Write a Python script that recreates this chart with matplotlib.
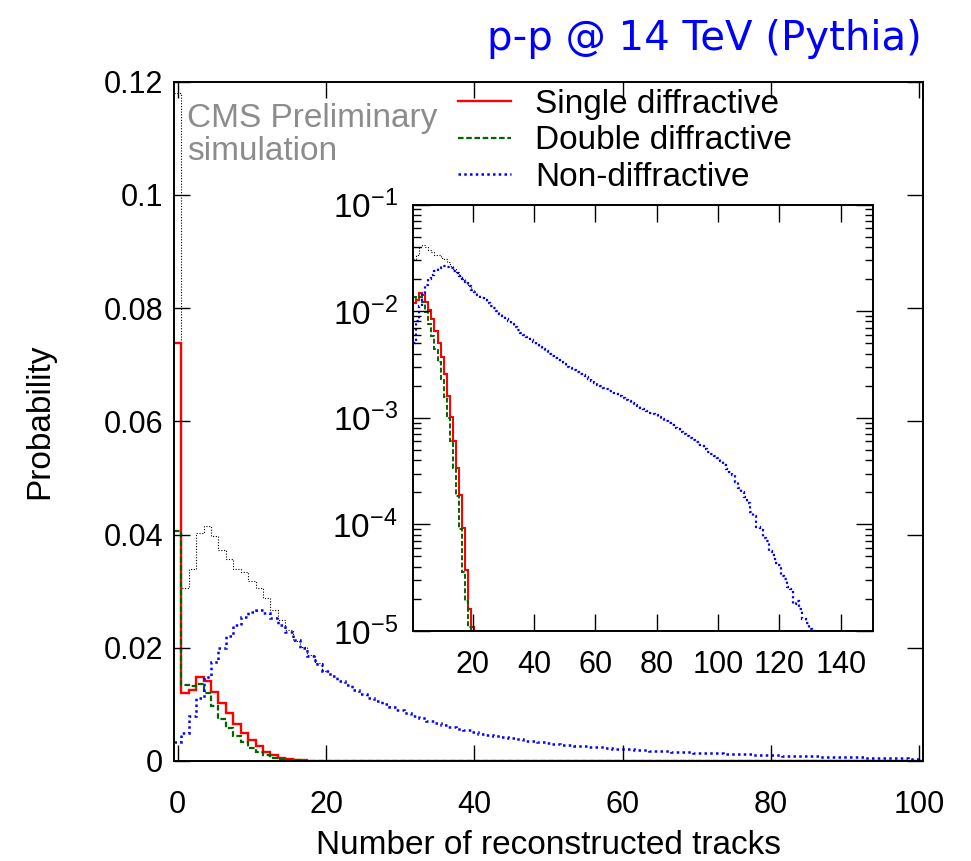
import numpy as np
import matplotlib
matplotlib.use("Agg")
import matplotlib.pyplot as plt
from matplotlib.lines import Line2D
from matplotlib.ticker import FuncFormatter, LogLocator, NullFormatter, NullLocator

plt.rcParams['font.family'] = ['Liberation Sans', 'DejaVu Sans']
plt.rcParams['mathtext.default'] = 'regular'

# probability per track-multiplicity bin (bin n centred on n)
single_diff = [0.0738, 0.0120, 0.0126, 0.0148, 0.0142, 0.0122, 0.0103, 0.0084, 0.0065, 0.0050,
               0.0037, 0.0026, 0.0016, 0.00102, 0.00061, 0.00034, 0.000188, 0.000093, 0.000037,
               0.000016, 0.000011]
double_diff = [0.0407, 0.0135, 0.0132, 0.0136, 0.0121, 0.0098, 0.0075, 0.0058, 0.0044, 0.0033,
               0.0023, 0.00155, 0.00100, 0.00060, 0.00034, 0.000186, 0.000090, 0.000036,
               0.000019, 0.000011]
non_diff = [0.0033, 0.0050, 0.0080, 0.0112, 0.0148, 0.0175, 0.0200, 0.0220, 0.0240, 0.0255,
            0.0264, 0.0266, 0.0261, 0.0252, 0.0240, 0.0227, 0.0213, 0.0200, 0.0186, 0.0172,
            0.0159, 0.0150, 0.0142, 0.0134, 0.0126, 0.0119, 0.0112, 0.0106, 0.0100, 0.0095,
            0.0090, 0.0085, 0.0080, 0.0076, 0.0071, 0.0067, 0.0063, 0.0060, 0.0057, 0.0054,
            0.0051, 0.0048, 0.0046, 0.0044, 0.0042, 0.0040, 0.0038, 0.0036, 0.0035, 0.0033,
            0.0032, 0.0030, 0.0029, 0.0028, 0.0027, 0.0026, 0.0025, 0.0024, 0.0023, 0.0022,
            0.0021, 0.00205, 0.00198, 0.00192, 0.00185, 0.00178, 0.00172, 0.00166, 0.00160, 0.00154,
            0.00148, 0.00143, 0.00138, 0.00133, 0.00128, 0.00124, 0.00120, 0.00116, 0.00112, 0.00109,
            0.00105, 0.00101, 0.00097, 0.00093, 0.00089, 0.00085, 0.00081, 0.00078, 0.00074, 0.00071,
            0.00068, 0.00065, 0.00062, 0.00059, 0.00056, 0.00054, 0.00051, 0.00048, 0.00046, 0.00044,
            0.00042, 0.00039, 0.00036, 0.00033, 0.00031, 0.00029, 0.00025, 0.00022, 0.00020, 0.00018,
            0.00016, 0.00013, 0.00012, 0.000095, 0.000088, 0.000075, 0.000070, 0.000056, 0.000052, 0.000043,
            0.000042, 0.000033, 0.000031, 0.000026, 0.000025, 0.000018, 0.000019, 0.000016, 0.000013, 0.000012,
            0.0000105, 0.0000100]
all_events = [0.118, 0.0305, 0.0339, 0.0403, 0.0415, 0.0398, 0.0372, 0.0356, 0.0339, 0.0333,
              0.0318, 0.0305, 0.0288, 0.0266, 0.0249, 0.0231, 0.0212, 0.0201, 0.0187, 0.0173, 0.0159]

labels = ["Single diffractive", "Double diffractive", "Non-diffractive"]
main_xticks = [0, 20, 40, 60, 80, 100]
main_yticks = [0, 0.02, 0.04, 0.06, 0.08, 0.1, 0.12]
inset_xticks = [20, 40, 60, 80, 100, 120, 140]

RED = "#ff0000"
GREEN = "#006400"
BLUE = "#0000ff"

styles = {
    "sd": dict(color=RED, linewidth=1.7, linestyle="-"),
    "dd": dict(color=GREEN, linewidth=1.6, linestyle=(0, (2.5, 1.2))),
    "nd": dict(color=BLUE, linewidth=1.8, linestyle=(0, (1, 1.3))),
    "tot": dict(color="black", linewidth=0.8, linestyle=(0, (1, 1.5))),
}


def padded(vals, n):
    out = np.zeros(n)
    out[:len(vals)] = vals
    return out


W, H = 971, 861
fig = plt.figure(figsize=(W / 100, H / 100), dpi=100)

# ---- main panel (linear)
ax = fig.add_axes([174 / W, 1 - 761 / H, 749 / W, 679.3 / H])
nmain = 101
edges = np.arange(nmain + 1) - 0.5
ax.stairs(all_events, edges[:len(all_events) + 1], baseline=None, **styles["tot"])
ax.stairs(padded(single_diff, nmain), edges, baseline=None, **styles["sd"])
ax.stairs(padded(double_diff, nmain), edges, baseline=None, **styles["dd"])
ax.stairs(np.array(non_diff[:nmain]), edges, baseline=None, **styles["nd"])

ax.set_xlim(-0.5, 100.5)
ax.set_ylim(0, 0.12)
ax.set_xticks(main_xticks)
ax.set_yticks(main_yticks)
ax.yaxis.set_major_formatter(FuncFormatter(lambda v, _: "0" if v == 0 else f"{v:g}"))
ax.tick_params(direction="in", top=True, right=True, length=11.5, width=1.0,
               labelsize=22)
ax.tick_params(axis="x", pad=21)
ax.tick_params(axis="y", pad=8)
for s in ax.spines.values():
    s.set_linewidth(1.4)

# ---- inset (log)
axin = fig.add_axes([413 / W, 1 - 631 / H, 460 / W, 426.5 / H])
nin = len(non_diff)
in_edges = np.arange(1, nin + 2) - 0.5
tot_in = all_events[1:]
axin.stairs(tot_in, in_edges[:len(tot_in) + 1], baseline=None, **styles["tot"])
sd_in = list(single_diff[1:]) + [0.0]
dd_in = list(double_diff[1:]) + [0.0]
nd_in = list(non_diff[1:]) + [0.0]
axin.stairs(sd_in, in_edges[:len(sd_in) + 1], baseline=None, **{**styles["sd"], "linewidth": 1.5})
axin.stairs(dd_in, in_edges[:len(dd_in) + 1], baseline=None, **{**styles["dd"], "linewidth": 1.4})
axin.stairs(nd_in, in_edges[:len(nd_in) + 1], baseline=None, **{**styles["nd"], "linewidth": 1.6})

axin.set_yscale("log")
axin.set_xlim(0.5, 150.5)
axin.set_ylim(1e-5, 1e-1)
axin.set_xticks(inset_xticks)
axin.xaxis.set_minor_locator(NullLocator())
axin.yaxis.set_major_locator(LogLocator(base=10, numticks=10))
axin.yaxis.set_minor_locator(LogLocator(base=10, subs=np.arange(2, 10), numticks=10))
axin.yaxis.set_minor_formatter(NullFormatter())
axin.tick_params(which="both", direction="in", top=True, right=True, width=1.0)
axin.tick_params(which="major", length=12)
axin.tick_params(which="minor", length=6)
axin.tick_params(axis="x", labelsize=22, pad=14)
axin.tick_params(axis="y", labelsize=24, pad=11)
for s in axin.spines.values():
    s.set_linewidth(1.4)

# ---- texts
fig.text(549 / W, 1 - 845 / H, "Number of reconstructed tracks", fontsize=24,
         ha="center", va="center")
fig.text(40 / W, 1 - 421 / H, "Probability", fontsize=24, rotation=90,
         ha="center", va="center")
fig.text(922 / W, 1 - 39 / H, "p-p @ 14 TeV (Pythia)", fontsize=29, color=BLUE,
         family="DejaVu Sans", ha="right", va="center")
fig.text(187 / W, 1 - 103 / H, "CMS Preliminary\nsimulation", fontsize=24,
         color="#8c8c8c", ha="left", va="top", linespacing=1.08)

handles = [Line2D([], [], **styles["sd"]), Line2D([], [], **styles["dd"]),
           Line2D([], [], **styles["nd"])]
fig.legend(handles, labels, loc="upper left", bbox_to_anchor=(458 / W, 1 - 89 / H),
           frameon=False, fontsize=24, handlelength=1.6, handletextpad=0.72,
           labelspacing=0.16, borderpad=0, borderaxespad=0)

fig.savefig("out.png", dpi=100)
